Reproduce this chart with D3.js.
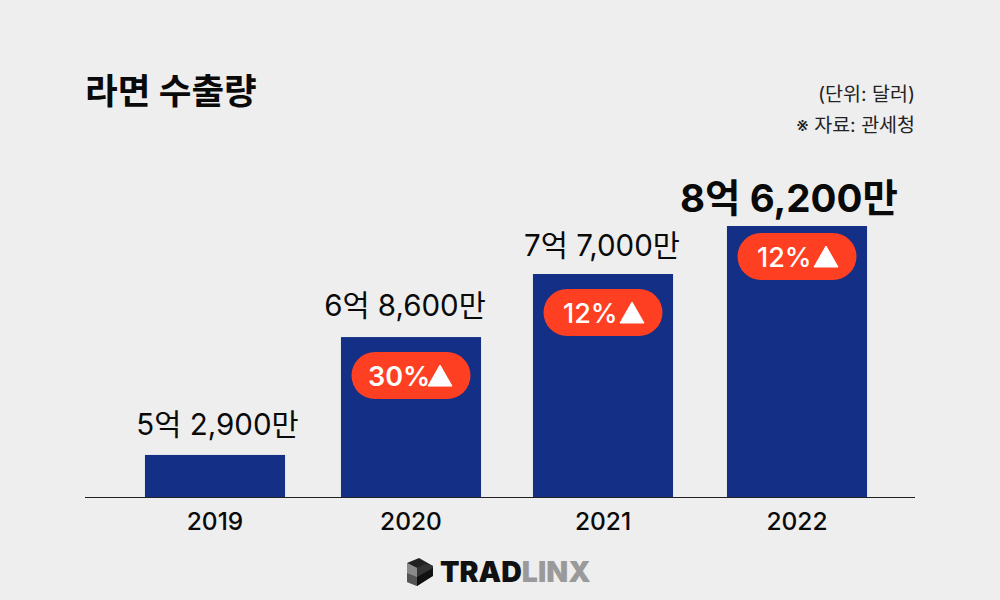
<!DOCTYPE html>
<html>
<head>
<meta charset="utf-8">
<script src="https://cdn.jsdelivr.net/npm/d3@7"></script>
<style>
  html, body { margin: 0; padding: 0; background: #eeeeee; }
  text { font-family: "Inter", "Noto Sans CJK KR", sans-serif; fill: #0a0a0a; }
</style>
</head>
<body>
<svg id="chart" width="1000" height="600"></svg>
<script>
// values are in units of 만 (10,000 dollars)
var years = ["2019", "2020", "2021", "2022"];
var exportValues = [52900, 68600, 77000, 86200];
var valueLabels = ["5억 2,900만", "6억 8,600만", "7억 7,000만", "8억 6,200만"];
var growthLabels = [null, "30%", "12%", "12%"];

var svg = d3.select("#chart");
var baseY = 497;

svg.append("rect").attr("width", 1000).attr("height", 600).attr("fill", "#eeeeee");

var x = d3.scaleBand().domain(years).range([118, 894]).paddingInner(0.278).paddingOuter(0.139);

// the 2020 column sits slightly right of even spacing in the original
var bandShift = [0, 2, 0, 0];
function barX(d, i) { return x(d) + bandShift[i]; }

// the original bars are not to scale, so the y scale bends at the 2021 value
var y = d3.scaleLinear().domain([47300, 77000, 86200]).range([baseY, 274, 226]);

// title and notes
svg.append("text").attr("x", 85).attr("y", 104)
    .style("font-size", "35.5px").style("font-weight", 700).text("라면 수출량");
svg.append("text").attr("x", 915).attr("y", 100.5).attr("text-anchor", "end")
    .style("font-size", "19.5px").style("fill", "#222").text("(단위: 달러)");
svg.append("text").attr("x", 915).attr("y", 131.5).attr("text-anchor", "end")
    .style("font-size", "19.5px").style("fill", "#222").text("※ 자료: 관세청");

// bars
svg.selectAll(".bar").data(years).enter().append("rect")
    .attr("class", "bar")
    .attr("x", barX)
    .attr("y", function(d, i) { return y(exportValues[i]); })
    .attr("width", x.bandwidth())
    .attr("height", function(d, i) { return baseY - y(exportValues[i]); })
    .attr("fill", "#132f86");

// baseline runs wider than the band range
svg.append("line").attr("x1", 85).attr("x2", 915).attr("y1", baseY + 0.5).attr("y2", baseY + 0.5)
    .attr("stroke", "#222").attr("stroke-width", 1);

var axis = svg.append("g").attr("transform", "translate(0," + baseY + ")")
    .call(d3.axisBottom(x).tickSize(0).tickPadding(16));
axis.select(".domain").remove();
axis.selectAll("text").attr("dx", function(d, i) { return bandShift[i]; })
    .style("font-size", "24.5px").style("font-weight", 500)
    .style("font-family", "Inter, sans-serif");

// value labels sit a little off centre in the original, the last one is emphasised
var labelShift = [2.5, -6, -1, -8];
var labelGap = [20, 21, 18, 14];
svg.selectAll(".value").data(years).enter().append("text")
    .attr("class", "value")
    .attr("x", function(d, i) { return barX(d, i) + x.bandwidth() / 2 + labelShift[i]; })
    .attr("y", function(d, i) { return y(exportValues[i]) - labelGap[i]; })
    .attr("text-anchor", "middle")
    .style("font-size", function(d, i) { return i === 3 ? "38.5px" : "29.5px"; })
    .style("font-weight", function(d, i) { return i === 3 ? 700 : 400; })
    .text(function(d, i) { return valueLabels[i]; });

// growth badges
years.forEach(function(year, i) {
    if (!growthLabels[i]) return;
    var cx = barX(year, i) + x.bandwidth() / 2;
    var top = y(exportValues[i]) + (i === 3 ? 7 : 15);
    var g = svg.append("g").attr("transform", "translate(" + cx + "," + (top + 23.5) + ")");
    g.append("rect").attr("x", -59.5).attr("y", -23.5).attr("width", 119).attr("height", 47)
        .attr("rx", 23.5).attr("fill", "#ff3f22");
    g.append("text").attr("x", i === 1 ? -43 : -40).attr("y", 10)
        .style("fill", "#fff").style("font-size", "27px")
        .style("font-weight", i === 1 ? 600 : 500)
        .text(growthLabels[i]);
    g.append("path").attr("d", "M17,10.5 L29,-10.5 L41,10.5 Z").attr("fill", "#fff")
        .attr("stroke", "#fff").attr("stroke-width", 1);
});

// logo
var logo = svg.append("g").attr("transform", "translate(407,558)");
logo.append("path").attr("d", "M0,5 L10,10 L10,28 L0,24 Z").attr("fill", "#8a8a8a");
logo.append("path").attr("d", "M10,10 L26,8 L12,0 L0,5 Z").attr("fill", "#222");
logo.append("path").attr("d", "M10,10 L18,6 L26,8 L26,17 L10,28 Z").attr("fill", "#333");
logo.append("path").attr("d", "M0,15 L10,19 L10,28 L0,24 Z").attr("fill", "#555");
logo.append("path").attr("d", "M10,19 L26,10 L26,18 L10,28 Z").attr("fill", "#111");

var logoText = svg.append("text").attr("x", 440).attr("y", 582)
    .style("font-size", "28.5px").style("font-weight", 900).style("font-family", "Inter, sans-serif");
logoText.append("tspan").style("fill", "#111").text("TRAD");
logoText.append("tspan").style("fill", "#9a9a9a").text("LINX");
</script>
</body>
</html>
